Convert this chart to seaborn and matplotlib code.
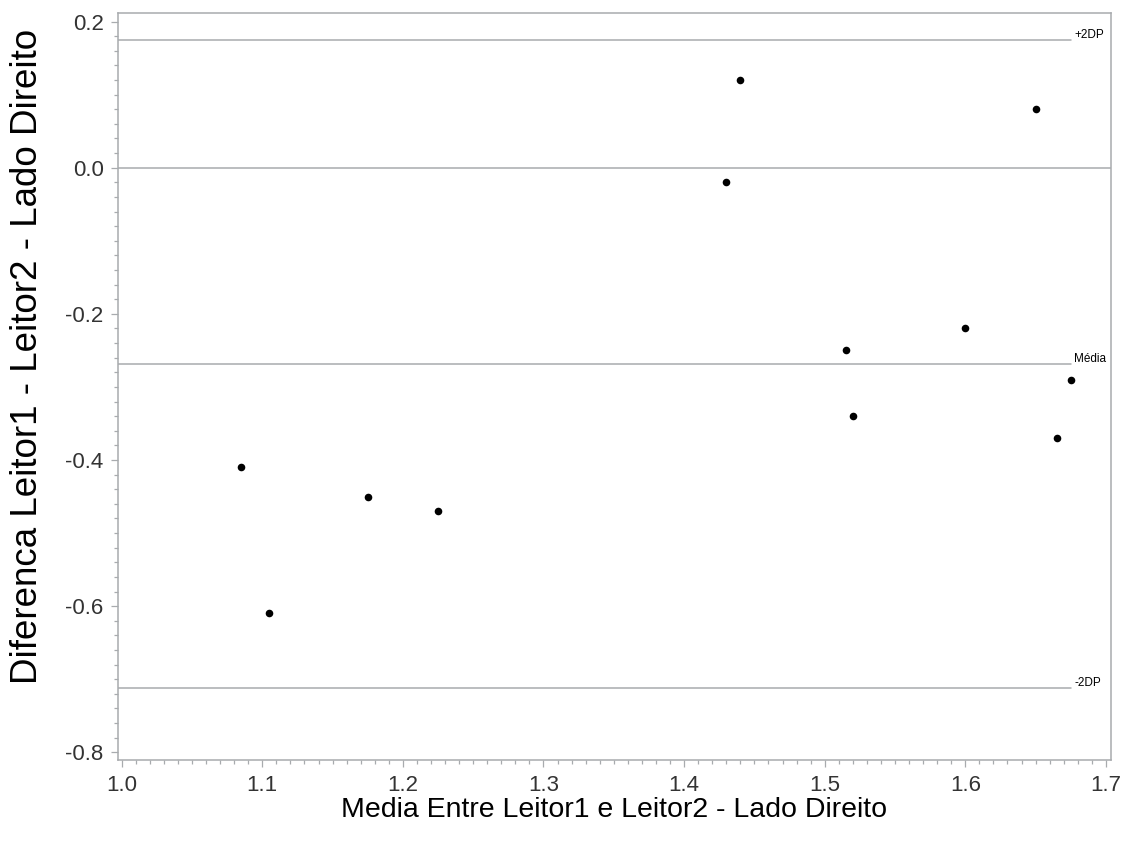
import matplotlib
matplotlib.use("Agg")
import matplotlib.pyplot as plt
from matplotlib.ticker import MultipleLocator
import seaborn as sns
import pandas as pd

# Data
media = [1.085, 1.105, 1.175, 1.225, 1.430, 1.440, 1.515, 1.520, 1.600, 1.650, 1.665, 1.675]
diferenca = [-0.41, -0.61, -0.45, -0.47, -0.02, 0.12, -0.25, -0.34, -0.22, 0.08, -0.37, -0.29]
ref_labels = ["+2DP", "Média", "-2DP"]
ref_values = [0.175, -0.268, -0.712]
zero_value = 0.0
x_ticks = [1.0, 1.1, 1.2, 1.3, 1.4, 1.5, 1.6, 1.7]
y_ticks = [0.2, 0.0, -0.2, -0.4, -0.6, -0.8]

df = pd.DataFrame({"media": media, "diferenca": diferenca})

sns.set_style("white")
plt.rcParams["font.family"] = ["Liberation Sans", "DejaVu Sans"]

fig = plt.figure(figsize=(11.33, 8.5), dpi=100)
ax = fig.add_axes([0.1044, 0.1059, 0.8759, 0.8785])

gray = "#A8ABAE"
xlim = (0.99758, 1.7034)
ax.set_xlim(*xlim)
ax.set_ylim(-0.8105, 0.2113)

# reference lines
ax.axhline(zero_value, color=gray, lw=1.1, zorder=1)
xmax_line = max(media)
for lab, val in zip(ref_labels, ref_values):
    ax.plot([xlim[0], xmax_line], [val, val], color=gray, lw=1.1, zorder=1)
    ax.annotate(lab, xy=(xmax_line, val), xytext=(2.5, 3.5), textcoords="offset points",
                fontsize=8.5, ha="left", va="center", color="black")

sns.scatterplot(data=df, x="media", y="diferenca", ax=ax, color="black",
                s=30, edgecolor="black", linewidth=0, zorder=3)

ax.set_xticks(x_ticks)
ax.set_xticklabels([f"{v:.1f}" for v in x_ticks])
ax.set_yticks(y_ticks)
ax.set_yticklabels([f"{v:.1f}" for v in y_ticks])
ax.xaxis.set_minor_locator(MultipleLocator(0.01))
ax.yaxis.set_minor_locator(MultipleLocator(0.02))

ax.tick_params(axis="both", which="major", direction="out", length=5, width=0.9,
               color=gray, labelsize=16, labelcolor="#333333")
ax.tick_params(axis="x", which="major", pad=5.5)
ax.tick_params(axis="y", which="major", pad=5.5)
ax.tick_params(axis="both", which="minor", direction="out", length=3, width=0.9,
               color=gray)
ax.tick_params(left=True, bottom=True, top=False, right=False)
ax.tick_params(which="minor", left=True, bottom=True, top=False, right=False)

for sp in ax.spines.values():
    sp.set_color(gray)
    sp.set_linewidth(1.1)
    sp.set_visible(True)

ax.set_xlabel("Media Entre Leitor1 e Leitor2 - Lado Direito", fontsize=20.5, color="black")
ax.xaxis.set_label_coords(0.5, -0.05)
ax.set_ylabel("Diferenca Leitor1 - Leitor2 - Lado Direito", fontsize=26.5, color="black")
ax.yaxis.set_label_coords(-0.074, 0.54)

fig.savefig("out.png", dpi=100)
